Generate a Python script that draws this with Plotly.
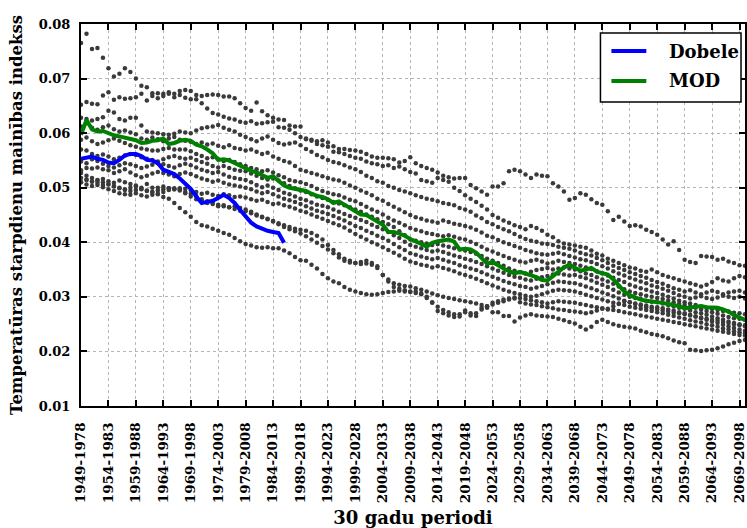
import plotly.graph_objects as go

# 30-year periods, one per start year
start_years = list(range(1949, 2072))
periods = [f"{y}-{y + 29}" for y in start_years]
tick_labels = periods[::5]

# Observed index at Dobele station
dobele = [
    0.0553, 0.0555, 0.0557, 0.0553, 0.0551, 0.0546, 0.0545, 0.0551, 0.0559, 0.0562,
    0.0562, 0.0558, 0.0551, 0.0550, 0.0545, 0.0533, 0.0529, 0.0525, 0.0517, 0.0508,
    0.0498, 0.0484, 0.0472, 0.0474, 0.0476, 0.0481, 0.0487, 0.0481, 0.0472, 0.0459,
    0.0447, 0.0436, 0.0429, 0.0424, 0.0421, 0.0419, 0.0417, 0.0399,
]

# Ensemble mean of the models
mod_mean = [
    0.0597, 0.0624, 0.0607, 0.0603, 0.0604, 0.0599, 0.0596, 0.0594, 0.0592, 0.0590,
    0.0587, 0.0582, 0.0583, 0.0586, 0.0587, 0.0590, 0.0580, 0.0582, 0.0586, 0.0588,
    0.0586, 0.0579, 0.0576, 0.0570, 0.0563, 0.0551, 0.0552, 0.0550, 0.0545, 0.0541,
    0.0536, 0.0531, 0.0528, 0.0523, 0.0518, 0.0521, 0.0512, 0.0504, 0.0500, 0.0498,
    0.0496, 0.0494, 0.0489, 0.0485, 0.0483, 0.0479, 0.0472, 0.0475, 0.0469, 0.0462,
    0.0457, 0.0451, 0.0450, 0.0444, 0.0439, 0.0432, 0.0419, 0.0419, 0.0416, 0.0412,
    0.0406, 0.0402, 0.0397, 0.0392, 0.0399, 0.0402, 0.0404, 0.0405, 0.0401, 0.0387,
    0.0388, 0.0387, 0.0381, 0.0372, 0.0361, 0.0364, 0.0357, 0.0352, 0.0347, 0.0343,
    0.0346, 0.0343, 0.0339, 0.0336, 0.0331, 0.0330, 0.0338, 0.0347, 0.0354, 0.0359,
    0.0353, 0.0348, 0.0350, 0.0353, 0.0346, 0.0343, 0.0341, 0.0332, 0.0322, 0.0310,
    0.0303, 0.0299, 0.0295, 0.0293, 0.0292, 0.0291, 0.0289, 0.0287, 0.0285, 0.0283,
    0.0279, 0.0280, 0.0282, 0.0283, 0.0281, 0.0280, 0.0280, 0.0277, 0.0273, 0.0267,
    0.0262, 0.0257, 0.0253,
]

# Individual model runs
model_01 = [
    0.0765, 0.0782, 0.0754, 0.0756, 0.0738, 0.0719, 0.0704, 0.0709, 0.0719, 0.0712,
    0.0700, 0.0687, 0.0684, 0.0673, 0.0673, 0.0672, 0.0675, 0.0672, 0.0677, 0.0679,
    0.0677, 0.0670, 0.0668, 0.0670, 0.0671, 0.0670, 0.0667, 0.0667, 0.0664, 0.0655,
    0.0646, 0.0641, 0.0656, 0.0640, 0.0633, 0.0628, 0.0625, 0.0624, 0.0614, 0.0612,
    0.0612, 0.0590, 0.0588, 0.0585, 0.0587, 0.0583, 0.0576, 0.0571, 0.0571, 0.0569,
    0.0568, 0.0566, 0.0562, 0.0557, 0.0555, 0.0555, 0.0554, 0.0552, 0.0546, 0.0549,
    0.0556, 0.0545, 0.0540, 0.0536, 0.0533, 0.0528, 0.0522, 0.0519, 0.0517, 0.0518,
    0.0518, 0.0505, 0.0499, 0.0493, 0.0487, 0.0502, 0.0502, 0.0508, 0.0530, 0.0533,
    0.0530, 0.0524, 0.0518, 0.0524, 0.0522, 0.0521, 0.0508, 0.0502, 0.0493, 0.0478,
    0.0481, 0.0490, 0.0487, 0.0479, 0.0472, 0.0469, 0.0457, 0.0441, 0.0447, 0.0438,
    0.0430, 0.0431, 0.0429, 0.0423, 0.0419, 0.0414, 0.0405, 0.0396, 0.0402, 0.0386,
    0.0368, 0.0364, 0.0362, 0.0375, 0.0374, 0.0373, 0.0368, 0.0370, 0.0365, 0.0362,
    0.0358, 0.0357, 0.0355,
]
model_02 = [
    0.0652, 0.0657, 0.0654, 0.0653, 0.0669, 0.0675, 0.0661, 0.0666, 0.0663, 0.0664,
    0.0666, 0.0672, 0.0660, 0.0668, 0.0664, 0.0668, 0.0672, 0.0666, 0.0670, 0.0665,
    0.0662, 0.0662, 0.0655, 0.0645, 0.0637, 0.0634, 0.0630, 0.0627, 0.0625, 0.0621,
    0.0619, 0.0622, 0.0617, 0.0618, 0.0620, 0.0621, 0.0611, 0.0610, 0.0606, 0.0600,
    0.0593, 0.0589, 0.0586, 0.0580, 0.0578, 0.0575, 0.0566, 0.0565, 0.0562, 0.0558,
    0.0555, 0.0553, 0.0548, 0.0545, 0.0543, 0.0540, 0.0541, 0.0536, 0.0539, 0.0534,
    0.0529, 0.0526, 0.0514, 0.0512, 0.0509, 0.0518, 0.0514, 0.0511, 0.0500, 0.0494,
    0.0486, 0.0480, 0.0474, 0.0467, 0.0460, 0.0450, 0.0445, 0.0440, 0.0436, 0.0431,
    0.0428, 0.0424, 0.0430, 0.0426, 0.0421, 0.0414, 0.0409, 0.0402, 0.0398, 0.0396,
    0.0394, 0.0392, 0.0390, 0.0385, 0.0379, 0.0376, 0.0370, 0.0366, 0.0362, 0.0358,
    0.0354, 0.0352, 0.0348, 0.0346, 0.0350, 0.0345, 0.0340, 0.0337, 0.0334, 0.0331,
    0.0328, 0.0325, 0.0322, 0.0319, 0.0322, 0.0327, 0.0334, 0.0330, 0.0328, 0.0334,
    0.0338, 0.0336, 0.0333,
]
model_03 = [
    0.0628, 0.0626, 0.0623, 0.0626, 0.0629, 0.0641, 0.0638, 0.0626, 0.0623, 0.0628,
    0.0628, 0.0614, 0.0603, 0.0601, 0.0600, 0.0598, 0.0597, 0.0599, 0.0603, 0.0601,
    0.0600, 0.0605, 0.0609, 0.0611, 0.0612, 0.0615, 0.0610, 0.0606, 0.0603, 0.0597,
    0.0593, 0.0589, 0.0585, 0.0590, 0.0594, 0.0588, 0.0582, 0.0579, 0.0581, 0.0583,
    0.0578, 0.0571, 0.0566, 0.0560, 0.0556, 0.0551, 0.0547, 0.0545, 0.0541, 0.0537,
    0.0534, 0.0529, 0.0522, 0.0518, 0.0512, 0.0509, 0.0503, 0.0500, 0.0496, 0.0493,
    0.0490, 0.0486, 0.0483, 0.0480, 0.0478, 0.0475, 0.0472, 0.0470, 0.0468, 0.0463,
    0.0460, 0.0456, 0.0449, 0.0444, 0.0437, 0.0433, 0.0428, 0.0424, 0.0420, 0.0415,
    0.0410, 0.0406, 0.0403, 0.0401, 0.0398, 0.0397, 0.0395, 0.0392, 0.0390, 0.0388,
    0.0385, 0.0381, 0.0378, 0.0376, 0.0371, 0.0367, 0.0362, 0.0357, 0.0353, 0.0349,
    0.0345, 0.0342, 0.0338, 0.0335, 0.0331, 0.0327, 0.0324, 0.0320, 0.0316, 0.0313,
    0.0310, 0.0312, 0.0308, 0.0305, 0.0308, 0.0311, 0.0309, 0.0305, 0.0308, 0.0310,
    0.0311, 0.0308, 0.0306,
]
model_04 = [
    0.0612, 0.0618, 0.0610, 0.0606, 0.0611, 0.0614, 0.0607, 0.0603, 0.0605, 0.0601,
    0.0598, 0.0590, 0.0588, 0.0592, 0.0589, 0.0585, 0.0590, 0.0593, 0.0588, 0.0586,
    0.0584, 0.0580, 0.0583, 0.0579, 0.0581, 0.0577, 0.0574, 0.0578, 0.0573, 0.0571,
    0.0568, 0.0570, 0.0566, 0.0562, 0.0564, 0.0557, 0.0553, 0.0549, 0.0546, 0.0540,
    0.0533, 0.0530, 0.0527, 0.0524, 0.0521, 0.0518, 0.0515, 0.0513, 0.0509, 0.0504,
    0.0500, 0.0495, 0.0491, 0.0486, 0.0480, 0.0476, 0.0470, 0.0465, 0.0460, 0.0455,
    0.0450, 0.0446, 0.0443, 0.0440, 0.0438, 0.0436, 0.0440, 0.0437, 0.0434, 0.0432,
    0.0430, 0.0427, 0.0423, 0.0418, 0.0412, 0.0409, 0.0404, 0.0400, 0.0397, 0.0393,
    0.0390, 0.0386, 0.0383, 0.0380, 0.0378, 0.0377, 0.0379, 0.0381, 0.0378, 0.0375,
    0.0372, 0.0369, 0.0367, 0.0364, 0.0360, 0.0356, 0.0352, 0.0347, 0.0343, 0.0339,
    0.0335, 0.0332, 0.0328, 0.0325, 0.0321, 0.0318, 0.0315, 0.0311, 0.0307, 0.0303,
    0.0300, 0.0297, 0.0299, 0.0301, 0.0298, 0.0296, 0.0299, 0.0302, 0.0300, 0.0298,
    0.0300, 0.0297, 0.0295,
]
model_05 = [
    0.0588, 0.0592, 0.0585, 0.0580, 0.0583, 0.0587, 0.0590, 0.0586, 0.0582, 0.0578,
    0.0575, 0.0572, 0.0570, 0.0568, 0.0568, 0.0571, 0.0573, 0.0570, 0.0570, 0.0570,
    0.0567, 0.0562, 0.0558, 0.0554, 0.0556, 0.0552, 0.0549, 0.0551, 0.0547, 0.0543,
    0.0540, 0.0536, 0.0534, 0.0530, 0.0532, 0.0528, 0.0523, 0.0519, 0.0514, 0.0512,
    0.0510, 0.0507, 0.0503, 0.0498, 0.0494, 0.0491, 0.0488, 0.0486, 0.0482, 0.0478,
    0.0475, 0.0470, 0.0465, 0.0460, 0.0456, 0.0451, 0.0445, 0.0440, 0.0436, 0.0431,
    0.0426, 0.0423, 0.0420, 0.0417, 0.0415, 0.0413, 0.0411, 0.0413, 0.0410, 0.0407,
    0.0405, 0.0401, 0.0397, 0.0392, 0.0387, 0.0383, 0.0379, 0.0375, 0.0371, 0.0368,
    0.0365, 0.0363, 0.0366, 0.0368, 0.0365, 0.0361, 0.0363, 0.0366, 0.0364, 0.0362,
    0.0360, 0.0357, 0.0354, 0.0351, 0.0347, 0.0343, 0.0339, 0.0335, 0.0331, 0.0327,
    0.0322, 0.0319, 0.0316, 0.0313, 0.0310, 0.0307, 0.0304, 0.0300, 0.0297, 0.0293,
    0.0290, 0.0288, 0.0285, 0.0282, 0.0280, 0.0278, 0.0276, 0.0274, 0.0273, 0.0271,
    0.0270, 0.0268, 0.0266,
]
model_06 = [
    0.0570, 0.0568, 0.0562, 0.0558, 0.0561, 0.0557, 0.0552, 0.0555, 0.0559, 0.0562,
    0.0560, 0.0556, 0.0553, 0.0551, 0.0548, 0.0552, 0.0556, 0.0558, 0.0555, 0.0553,
    0.0555, 0.0551, 0.0547, 0.0544, 0.0540, 0.0537, 0.0540, 0.0536, 0.0533, 0.0531,
    0.0530, 0.0526, 0.0522, 0.0518, 0.0515, 0.0517, 0.0513, 0.0508, 0.0503, 0.0499,
    0.0495, 0.0492, 0.0488, 0.0484, 0.0481, 0.0478, 0.0474, 0.0471, 0.0468, 0.0464,
    0.0460, 0.0456, 0.0451, 0.0447, 0.0442, 0.0437, 0.0433, 0.0428, 0.0420, 0.0413,
    0.0405, 0.0403, 0.0400, 0.0398, 0.0395, 0.0397, 0.0394, 0.0392, 0.0389, 0.0387,
    0.0385, 0.0382, 0.0379, 0.0375, 0.0370, 0.0366, 0.0362, 0.0357, 0.0352, 0.0348,
    0.0345, 0.0343, 0.0346, 0.0349, 0.0351, 0.0353, 0.0350, 0.0352, 0.0354, 0.0352,
    0.0350, 0.0347, 0.0343, 0.0340, 0.0336, 0.0332, 0.0328, 0.0324, 0.0319, 0.0314,
    0.0310, 0.0307, 0.0305, 0.0302, 0.0300, 0.0298, 0.0296, 0.0293, 0.0290, 0.0287,
    0.0285, 0.0282, 0.0280, 0.0277, 0.0274, 0.0272, 0.0269, 0.0266, 0.0263, 0.0261,
    0.0260, 0.0258, 0.0256,
]
model_07 = [
    0.0548, 0.0545, 0.0552, 0.0549, 0.0544, 0.0540, 0.0537, 0.0541, 0.0545, 0.0543,
    0.0540, 0.0536, 0.0539, 0.0542, 0.0545, 0.0543, 0.0540, 0.0537, 0.0541, 0.0544,
    0.0541, 0.0537, 0.0533, 0.0530, 0.0527, 0.0529, 0.0524, 0.0520, 0.0518, 0.0516,
    0.0514, 0.0510, 0.0505, 0.0501, 0.0504, 0.0500, 0.0496, 0.0491, 0.0488, 0.0484,
    0.0480, 0.0477, 0.0473, 0.0469, 0.0467, 0.0464, 0.0460, 0.0456, 0.0452, 0.0448,
    0.0445, 0.0441, 0.0437, 0.0432, 0.0428, 0.0424, 0.0419, 0.0413, 0.0408, 0.0401,
    0.0395, 0.0392, 0.0389, 0.0386, 0.0383, 0.0385, 0.0382, 0.0379, 0.0376, 0.0373,
    0.0370, 0.0367, 0.0364, 0.0360, 0.0356, 0.0352, 0.0348, 0.0344, 0.0340, 0.0337,
    0.0335, 0.0332, 0.0330, 0.0333, 0.0336, 0.0338, 0.0341, 0.0343, 0.0341, 0.0339,
    0.0340, 0.0337, 0.0334, 0.0330, 0.0326, 0.0322, 0.0318, 0.0313, 0.0308, 0.0304,
    0.0300, 0.0298, 0.0296, 0.0293, 0.0291, 0.0290, 0.0288, 0.0285, 0.0283, 0.0280,
    0.0278, 0.0275, 0.0272, 0.0270, 0.0267, 0.0264, 0.0261, 0.0258, 0.0255, 0.0252,
    0.0250, 0.0248, 0.0246,
]
model_08 = [
    0.0532, 0.0536, 0.0535, 0.0537, 0.0534, 0.0532, 0.0527, 0.0530, 0.0534, 0.0528,
    0.0523, 0.0519, 0.0522, 0.0526, 0.0529, 0.0527, 0.0524, 0.0521, 0.0525, 0.0528,
    0.0525, 0.0521, 0.0517, 0.0514, 0.0511, 0.0513, 0.0509, 0.0506, 0.0504, 0.0502,
    0.0500, 0.0497, 0.0493, 0.0490, 0.0492, 0.0488, 0.0484, 0.0480, 0.0477, 0.0474,
    0.0470, 0.0466, 0.0462, 0.0458, 0.0455, 0.0452, 0.0448, 0.0444, 0.0440, 0.0435,
    0.0430, 0.0426, 0.0421, 0.0417, 0.0412, 0.0408, 0.0403, 0.0397, 0.0391, 0.0386,
    0.0380, 0.0377, 0.0374, 0.0371, 0.0369, 0.0371, 0.0368, 0.0365, 0.0362, 0.0358,
    0.0355, 0.0352, 0.0349, 0.0345, 0.0341, 0.0337, 0.0333, 0.0329, 0.0326, 0.0323,
    0.0320, 0.0318, 0.0315, 0.0317, 0.0320, 0.0323, 0.0326, 0.0328, 0.0327, 0.0326,
    0.0325, 0.0322, 0.0319, 0.0316, 0.0312, 0.0308, 0.0305, 0.0301, 0.0297, 0.0293,
    0.0290, 0.0288, 0.0286, 0.0284, 0.0282, 0.0281, 0.0279, 0.0277, 0.0275, 0.0272,
    0.0270, 0.0267, 0.0264, 0.0261, 0.0258, 0.0255, 0.0252, 0.0249, 0.0246, 0.0243,
    0.0240, 0.0238, 0.0236,
]
model_09 = [
    0.0527, 0.0522, 0.0518, 0.0514, 0.0516, 0.0512, 0.0509, 0.0513, 0.0510, 0.0507,
    0.0504, 0.0500, 0.0507, 0.0500, 0.0500, 0.0502, 0.0499, 0.0497, 0.0499, 0.0498,
    0.0496, 0.0492, 0.0489, 0.0491, 0.0487, 0.0485, 0.0488, 0.0486, 0.0483, 0.0484,
    0.0482, 0.0479, 0.0476, 0.0478, 0.0474, 0.0470, 0.0471, 0.0468, 0.0465, 0.0462,
    0.0458, 0.0455, 0.0451, 0.0447, 0.0443, 0.0439, 0.0435, 0.0431, 0.0427, 0.0421,
    0.0415, 0.0410, 0.0405, 0.0400, 0.0396, 0.0391, 0.0386, 0.0381, 0.0376, 0.0370,
    0.0365, 0.0362, 0.0359, 0.0357, 0.0354, 0.0356, 0.0353, 0.0350, 0.0347, 0.0343,
    0.0340, 0.0337, 0.0333, 0.0329, 0.0325, 0.0321, 0.0317, 0.0313, 0.0310, 0.0307,
    0.0305, 0.0302, 0.0300, 0.0302, 0.0305, 0.0308, 0.0311, 0.0313, 0.0312, 0.0311,
    0.0310, 0.0307, 0.0304, 0.0301, 0.0298, 0.0295, 0.0292, 0.0289, 0.0287, 0.0285,
    0.0282, 0.0280, 0.0278, 0.0276, 0.0274, 0.0272, 0.0270, 0.0267, 0.0265, 0.0262,
    0.0260, 0.0257, 0.0255, 0.0253, 0.0250, 0.0248, 0.0245, 0.0242, 0.0240, 0.0237,
    0.0235, 0.0233, 0.0231,
]
model_10 = [
    0.0518, 0.0515, 0.0511, 0.0513, 0.0510, 0.0506, 0.0502, 0.0499, 0.0496, 0.0494,
    0.0496, 0.0497, 0.0494, 0.0492, 0.0495, 0.0497, 0.0499, 0.0497, 0.0495, 0.0492,
    0.0489, 0.0485, 0.0479, 0.0475, 0.0472, 0.0469, 0.0466, 0.0464, 0.0466, 0.0463,
    0.0460, 0.0456, 0.0451, 0.0447, 0.0443, 0.0439, 0.0435, 0.0431, 0.0428, 0.0425,
    0.0423, 0.0421, 0.0417, 0.0412, 0.0405, 0.0395, 0.0386, 0.0378, 0.0370, 0.0366,
    0.0362, 0.0364, 0.0366, 0.0362, 0.0356, 0.0340, 0.0332, 0.0325, 0.0322, 0.0320,
    0.0319, 0.0316, 0.0313, 0.0310, 0.0306, 0.0303, 0.0300, 0.0298, 0.0296, 0.0294,
    0.0292, 0.0290, 0.0288, 0.0285, 0.0283, 0.0286, 0.0289, 0.0292, 0.0295, 0.0297,
    0.0298, 0.0296, 0.0294, 0.0292, 0.0290, 0.0288, 0.0290, 0.0292, 0.0291, 0.0290,
    0.0289, 0.0287, 0.0285, 0.0283, 0.0281, 0.0279, 0.0277, 0.0276, 0.0274, 0.0272,
    0.0270, 0.0268, 0.0266, 0.0264, 0.0262, 0.0260, 0.0258, 0.0256, 0.0254, 0.0252,
    0.0250, 0.0248, 0.0246, 0.0244, 0.0242, 0.0240, 0.0238, 0.0236, 0.0234, 0.0232,
    0.0230, 0.0229, 0.0228,
]
model_11 = [
    0.0510, 0.0506, 0.0503, 0.0505, 0.0501, 0.0497, 0.0494, 0.0490, 0.0488, 0.0487,
    0.0490, 0.0486, 0.0484, 0.0487, 0.0489, 0.0492, 0.0496, 0.0499, 0.0497, 0.0490,
    0.0484, 0.0479, 0.0476, 0.0472, 0.0470, 0.0466, 0.0468, 0.0464, 0.0461, 0.0458,
    0.0457, 0.0453, 0.0449, 0.0446, 0.0442, 0.0438, 0.0433, 0.0428, 0.0424, 0.0420,
    0.0416, 0.0411, 0.0405, 0.0399, 0.0393, 0.0387, 0.0380, 0.0372, 0.0366, 0.0363,
    0.0362, 0.0360, 0.0361, 0.0359, 0.0353, 0.0340, 0.0328, 0.0318, 0.0315, 0.0312,
    0.0310, 0.0307, 0.0305, 0.0300, 0.0290, 0.0274, 0.0270, 0.0266, 0.0263, 0.0268,
    0.0275, 0.0266, 0.0265, 0.0280, 0.0280, 0.0272, 0.0272, 0.0265, 0.0265, 0.0255,
    0.0262, 0.0266, 0.0268, 0.0266, 0.0265, 0.0264, 0.0263, 0.0260, 0.0257, 0.0254,
    0.0251, 0.0245, 0.0240, 0.0245, 0.0254, 0.0258, 0.0254, 0.0250, 0.0247, 0.0245,
    0.0244, 0.0242, 0.0238, 0.0235, 0.0232, 0.0230, 0.0228, 0.0224, 0.0220, 0.0217,
    0.0215, 0.0203, 0.0202, 0.0201, 0.0202, 0.0203, 0.0206, 0.0209, 0.0213, 0.0216,
    0.0219, 0.0221, 0.0222,
]
model_12 = [
    0.0510, 0.0514, 0.0512, 0.0509, 0.0505, 0.0507, 0.0503, 0.0500, 0.0497, 0.0500,
    0.0502, 0.0498, 0.0495, 0.0492, 0.0488, 0.0483, 0.0480, 0.0472, 0.0463, 0.0455,
    0.0447, 0.0437, 0.0431, 0.0429, 0.0425, 0.0421, 0.0417, 0.0414, 0.0408, 0.0402,
    0.0397, 0.0394, 0.0391, 0.0390, 0.0391, 0.0389, 0.0389, 0.0385, 0.0380, 0.0373,
    0.0367, 0.0366, 0.0359, 0.0352, 0.0342, 0.0334, 0.0328, 0.0325, 0.0318, 0.0313,
    0.0310, 0.0307, 0.0305, 0.0304, 0.0305, 0.0307, 0.0309, 0.0310, 0.0311, 0.0310,
    0.0309, 0.0310, 0.0306, 0.0298, 0.0289, 0.0282, 0.0276, 0.0272, 0.0268, 0.0264,
    0.0272, 0.0270, 0.0270, 0.0277, 0.0283, 0.0289, 0.0292, 0.0295, 0.0297, 0.0299,
    0.0290, 0.0288, 0.0286, 0.0285, 0.0283, 0.0281, 0.0279, 0.0277, 0.0276, 0.0274,
    0.0273, 0.0272, 0.0270, 0.0272, 0.0275, 0.0278, 0.0278, 0.0283, 0.0288, 0.0292,
    0.0290, 0.0287, 0.0284, 0.0281, 0.0279, 0.0277, 0.0275, 0.0273, 0.0271, 0.0270,
    0.0268, 0.0266, 0.0264, 0.0262, 0.0260, 0.0258, 0.0256, 0.0254, 0.0252, 0.0250,
    0.0248, 0.0246, 0.0244,
]

model_runs = [
    model_01, model_02, model_03, model_04, model_05, model_06,
    model_07, model_08, model_09, model_10, model_11, model_12,
]

SERIF = "DejaVu Serif"

fig = go.Figure()

for run in model_runs:
    fig.add_trace(go.Scatter(
        x=periods[:len(run)], y=run, mode="markers",
        marker=dict(size=4.5, color="#3a3a3a", line=dict(width=0)),
        showlegend=False, hoverinfo="skip",
    ))

fig.add_trace(go.Scatter(
    x=periods[:len(mod_mean)], y=mod_mean, mode="lines", name="MOD",
    line=dict(color="#008000", width=4), showlegend=False,
))
fig.add_trace(go.Scatter(
    x=periods[:len(dobele)], y=dobele, mode="lines", name="Dobele",
    line=dict(color="#0000ff", width=4), showlegend=False,
))

axis_common = dict(
    showline=True, linecolor="black", linewidth=2, mirror="ticks",
    ticks="inside", ticklen=6, tickwidth=1.5, tickcolor="black",
    showgrid=True, gridcolor="#b5b5b5", gridwidth=1, griddash="3px,3px",
    zeroline=False,
)

fig.update_xaxes(
    type="category", categoryorder="array", categoryarray=periods,
    range=[0, 121], tickvals=tick_labels, ticktext=tick_labels, tickangle=-90,
    tickfont=dict(family=SERIF, size=13.5, color="black", weight="bold"),
    ticklabelstandoff=9,
    title=dict(text="30 gadu periodi", standoff=12,
               font=dict(family=SERIF, size=18, color="black", weight="bold")),
    **axis_common,
)
fig.update_yaxes(
    range=[0.01, 0.08], tickvals=[0.01, 0.02, 0.03, 0.04, 0.05, 0.06, 0.07, 0.08],
    tickformat=".2f",
    tickfont=dict(family=SERIF, size=13, color="black", weight="bold"),
    ticklabelstandoff=6,
    title=dict(text="Temperatūras starpdienu mainības indekss", standoff=12,
               font=dict(family=SERIF, size=16.5, color="black", weight="bold")),
    **axis_common,
)

# Legend box drawn in paper coordinates
legend_entries = [("Dobele", "#0000ff", 0.929), ("MOD", "#008000", 0.851)]
shapes = [dict(type="rect", xref="paper", yref="paper",
               x0=0.7823, x1=0.994, y0=0.796, y1=0.9764,
               line=dict(color="black", width=1.5), fillcolor="white", layer="above")]
annotations = []
for label, color, ypos in legend_entries:
    shapes.append(dict(type="line", xref="paper", yref="paper",
                       x0=0.7988, x1=0.8514, y0=ypos, y1=ypos,
                       line=dict(color=color, width=4), layer="above"))
    annotations.append(dict(text=label, xref="paper", yref="paper",
                            x=0.8829, y=ypos, xanchor="left", yanchor="middle",
                            showarrow=False,
                            font=dict(family=SERIF, size=18, color="black", weight="bold")))

fig.update_layout(
    width=747, height=528,
    margin=dict(l=81, r=0, t=24, b=122),
    paper_bgcolor="white", plot_bgcolor="white",
    shapes=shapes, annotations=annotations,
    showlegend=False,
)

fig.write_html("out.html")
